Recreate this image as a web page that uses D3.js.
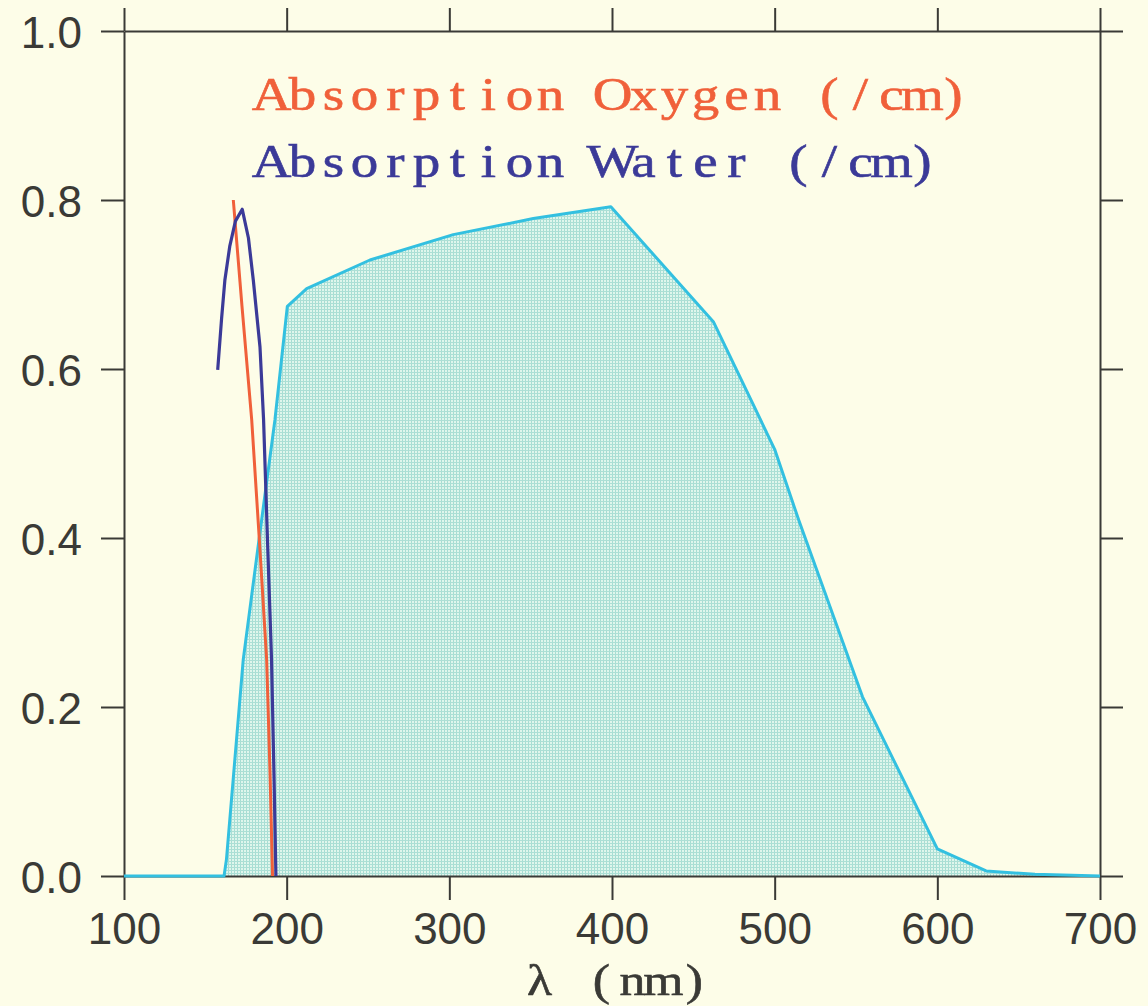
<!DOCTYPE html>
<html>
<head>
<meta charset="utf-8">
<script src="https://cdn.jsdelivr.net/npm/d3@7"></script>
<style>
  html, body { margin: 0; padding: 0; background: #fdfde8; }
  svg { display: block; }
</style>
</head>
<body>
<svg id="chart" width="1148" height="1006"></svg>
<script>
// ---- data ----
const xTicks = [100, 200, 300, 400, 500, 600, 700];
const yTicks = [0.0, 0.2, 0.4, 0.6, 0.8, 1.0];
const yTickLabels = ["0.0", "0.2", "0.4", "0.6", "0.8", "1.0"];

// cyan spectrum (filled)
const spectrumLambda = [100, 160, 161.5, 163, 173.3, 183, 192.8, 200.4, 212.3, 251.2, 302.4, 351.6, 399.3, 462.3, 500, 515, 554, 600, 630, 660, 700];
const spectrumValue  = [0, 0, 0, 0.02, 0.256, 0.398, 0.54, 0.674, 0.695, 0.729, 0.759, 0.778, 0.792, 0.656, 0.505, 0.42, 0.212, 0.032, 0.006, 0.002, 0];

// oxygen absorption
const oxygenLambda = [167.2, 172.5, 178.5, 183.2, 187.7, 189.8, 191.3];
const oxygenValue  = [0.80, 0.675, 0.54, 0.398, 0.256, 0.12, 0];

// water absorption
const waterLambda = [157.6, 160, 162, 165, 168.5, 172.7, 176.5, 179.5, 183.6, 185.8, 188.2, 190.7, 192.2, 193.4];
const waterValue  = [0.599, 0.66, 0.705, 0.745, 0.775, 0.789, 0.755, 0.705, 0.626, 0.54, 0.398, 0.256, 0.12, 0];

const legendLabels = ["Absorption Oxygen (/cm)", "Absorption Water (/cm)"];
const xAxisTitle = "\u03bb (nm)";

// ---- layout ----
const svg = d3.select("#chart");
const L = 124, R = 1100, T = 31, B = 876;
const x = d3.scaleLinear().domain([100, 700]).range([L, R]);
const y = d3.scaleLinear().domain([0, 1]).range([B, T]);

svg.append("rect").attr("width", 1148).attr("height", 1006).attr("fill", "#fdfde8");

// hatch pattern for fill
const defs = svg.append("defs");
const pat = defs.append("pattern").attr("id", "grid")
  .attr("patternUnits", "userSpaceOnUse").attr("width", 3).attr("height", 3);
pat.append("rect").attr("width", 3).attr("height", 3).attr("fill", "#dff6ec");
pat.append("rect").attr("x", 0).attr("y", 0).attr("width", 1).attr("height", 3).attr("fill", "#a6ddd3");
pat.append("rect").attr("x", 0).attr("y", 0).attr("width", 3).attr("height", 1).attr("fill", "#acdfd5");

const spectrum = spectrumLambda.map((l, i) => ({ l, v: spectrumValue[i] }));
const oxygen = oxygenLambda.map((l, i) => ({ l, v: oxygenValue[i] }));
const water = waterLambda.map((l, i) => ({ l, v: waterValue[i] }));

const area = d3.area().x(d => x(d.l)).y0(y(0)).y1(d => y(d.v));
const line = d3.line().x(d => x(d.l)).y(d => y(d.v));

svg.append("path").datum(spectrum).attr("d", area).attr("fill", "url(#grid)");

// axes (frame with outward ticks)
const axisColor = "#3a3a36";
function styleAxis(g) {
  g.selectAll("path.domain").attr("stroke", axisColor).attr("stroke-width", 2);
  g.selectAll(".tick line").attr("stroke", axisColor).attr("stroke-width", 2);
}
const tickFont = "'Liberation Sans', Arial, sans-serif";

const gLeft = svg.append("g").attr("transform", `translate(${L},0)`)
  .call(d3.axisLeft(y).tickValues(yTicks).tickSize(23).tickSizeOuter(0)
    .tickFormat((d, i) => yTickLabels[i]).tickPadding(19));
styleAxis(gLeft);
gLeft.selectAll(".tick text").attr("font-family", tickFont).attr("font-size", 44)
  .attr("fill", "#3a3a36").attr("dy", null).attr("y", 16).attr("x", -42);

const gRight = svg.append("g").attr("transform", `translate(${R},0)`)
  .call(d3.axisRight(y).tickValues(yTicks).tickSize(23).tickSizeOuter(0).tickFormat(""));
styleAxis(gRight);

const gTop = svg.append("g").attr("transform", `translate(0,${T})`)
  .call(d3.axisTop(x).tickValues(xTicks).tickSize(23).tickSizeOuter(0).tickFormat(""));
styleAxis(gTop);

const gBottom = svg.append("g").attr("transform", `translate(0,${B})`)
  .call(d3.axisBottom(x).tickValues(xTicks).tickSize(24).tickSizeOuter(0).tickFormat(d3.format("d")));
styleAxis(gBottom);
gBottom.selectAll(".tick text").attr("font-family", tickFont).attr("font-size", 44)
  .attr("fill", "#3a3a36").attr("dy", null).attr("y", 68);

// curves
svg.append("path").datum(spectrum).attr("d", line).attr("fill", "none")
  .attr("stroke", "#33c0e0").attr("stroke-width", 3).attr("stroke-linejoin", "round");
svg.append("path").datum(oxygen).attr("d", line).attr("fill", "none")
  .attr("stroke", "#f0603a").attr("stroke-width", 3);
svg.append("path").datum(water).attr("d", line).attr("fill", "none")
  .attr("stroke", "#3b3a98").attr("stroke-width", 3.2).attr("stroke-linejoin", "round");

// monospaced serif text: one text element, each glyph centred in a fixed cell,
// glyphs widened horizontally to fill the cells like a typewriter face
const monoFont = "'Liberation Serif', 'DejaVu Serif', serif";
const measurer = svg.append("text").attr("font-family", monoFont).attr("visibility", "hidden");
function glyphWidth(c, size) {
  measurer.attr("font-size", size).text(c === " " ? "\u00a0" : c);
  return measurer.node().getComputedTextLength();
}
function monoText(str, x0, yBase, pitch, color, size, sx) {
  const chars = Array.from(str);
  const xs = chars.map((c, i) => ((x0 + pitch * (i + 0.5) - glyphWidth(c, size) * sx / 2) / sx).toFixed(2)).join(" ");
  svg.append("text").attr("x", xs).attr("y", yBase)
    .attr("transform", `scale(${sx},1)`)
    .attr("font-family", monoFont).attr("font-size", size)
    .attr("fill", color)
    .attr("stroke", color).attr("stroke-width", 0.6)
    .attr("xml:space", "preserve")
    .text(str);
}
const legendColors = ["#f0603a", "#3b3a98"];
monoText(legendLabels[0], 256, 110, 31, legendColors[0], 47, 1.17);
monoText(legendLabels[1], 256, 177, 31, legendColors[1], 47, 1.17);

// x-axis title
const titleLen = Array.from(xAxisTitle).length;
monoText(xAxisTitle, 612 - titleLen * 31 / 2 + 5, 995, 31, "#3a3a36", 45, 1.15);
measurer.remove();
</script>
</body>
</html>
